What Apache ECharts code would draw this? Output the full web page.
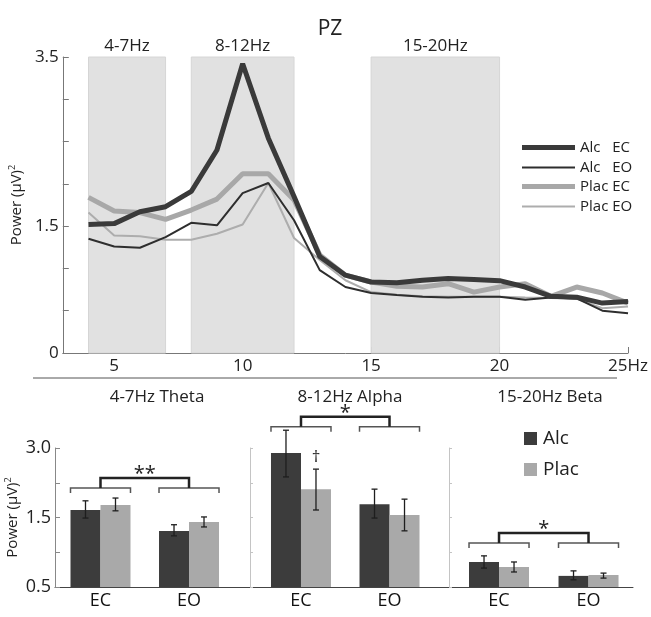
<!DOCTYPE html>
<html>
<head>
<meta charset="utf-8">
<script src="https://cdn.jsdelivr.net/npm/echarts@6/dist/echarts.min.js"></script>
<style>
  html, body { margin: 0; padding: 0; background: #fff; }
  #chart { width: 651px; height: 617px; }
</style>
</head>
<body>
<div id="chart"></div>
<script>
// spectrum at PZ, 4-25 Hz
const hz = [4, 5, 6, 7, 8, 9, 10, 11, 12, 13, 14, 15, 16, 17, 18, 19, 20, 21, 22, 23, 24, 25];
const alcEC = [1.52, 1.53, 1.67, 1.73, 1.91, 2.40, 3.42, 2.54, 1.85, 1.14, 0.92, 0.84, 0.83, 0.86, 0.88, 0.87, 0.855, 0.78, 0.67, 0.66, 0.59, 0.61];
const alcEO = [1.35, 1.26, 1.245, 1.37, 1.54, 1.51, 1.89, 2.01, 1.57, 0.98, 0.78, 0.71, 0.685, 0.665, 0.655, 0.665, 0.665, 0.63, 0.655, 0.645, 0.50, 0.47];
const placEC = [1.84, 1.68, 1.66, 1.58, 1.69, 1.82, 2.12, 2.12, 1.81, 1.16, 0.92, 0.84, 0.79, 0.78, 0.82, 0.72, 0.78, 0.82, 0.67, 0.78, 0.71, 0.59];
const placEO = [1.66, 1.39, 1.38, 1.34, 1.34, 1.41, 1.52, 2.01, 1.36, 1.10, 0.86, 0.72, 0.69, 0.67, 0.665, 0.665, 0.665, 0.655, 0.65, 0.64, 0.53, 0.55];
const lineNames = ["Alc   EC", "Alc   EO", "Plac EC", "Plac EO"];
const bandRanges = [[4, 7], [8, 12], [15, 20]];
const bandLabels = ["4-7Hz", "8-12Hz", "15-20Hz"];
const topYLabels = [0, 1.5, 3.5];
const topXLabels = [5, 10, 15, 20, 25];

// band means (EC, EO) with error bar ends
const bandTitles = ["4-7Hz Theta", "8-12Hz Alpha", "15-20Hz Beta"];
const conds = ["EC", "EO"];
const alcMean = [[1.885, 1.507], [2.91, 1.99], [0.95, 0.70]];
const alcLo = [[1.74, 1.42], [2.48, 1.74], [0.84, 0.63]];
const alcHi = [[2.05, 1.62], [3.32, 2.26], [1.06, 0.79]];
const placMean = [[1.975, 1.67], [2.26, 1.795], [0.86, 0.716]];
const placLo = [[1.87, 1.58], [1.885, 1.51], [0.77, 0.66]];
const placHi = [[2.10, 1.76], [2.62, 2.08], [0.95, 0.75]];
const placMarks = [["", ""], ["†", ""], ["", ""]];
const sigLevels = [2.28, 3.38, 1.29];
const sigMarks = ["**", "*", "*"];
const barTickLabels = ["0.5", "", "1.5", "", "3.0"];

const FONT = "Open Sans";
let myChart = echarts.init(document.getElementById("chart"));

let lineStyles = [
  { color: "#3a3a3a", width: 5 },
  { color: "#2e2e2e", width: 2 },
  { color: "#a8a8a8", width: 5 },
  { color: "#adadad", width: 2 },
];
let lineData = [alcEC, alcEO, placEC, placEO];

let series = [];
series.push({
  name: "bands",
  type: "line",
  data: [],
  z: 1,
  markArea: {
    silent: true,
    itemStyle: { color: "#e1e1e1", borderColor: "#d6d6d6", borderWidth: 1 },
    label: { position: "top", distance: 2, fontSize: 17, color: "#222", fontFamily: FONT },
    data: bandRanges.map((r, i) => [{ name: bandLabels[i], xAxis: r[0] }, { xAxis: r[1] }]),
  },
});
[3, 2, 1, 0].forEach((k) => {
  series.push({
    name: lineNames[k],
    type: "line",
    z: 3,
    symbol: "none",
    data: hz.map((h, i) => [h, lineData[k][i]]),
    lineStyle: lineStyles[k],
    itemStyle: { color: lineStyles[k].color },
  });
});

let gridLefts = [55, 250, 449];
let gridWidths = [195, 199, 184];
let xMins = [-0.514, -0.576, -0.559];
let xMaxs = [1.689, 1.672, 1.497];

let grids = [{ left: 55, right: 19, top: 57, height: 296 }];
let xAxes = [{
  type: "value", min: 3, max: 25,
  axisLine: { lineStyle: { color: "#777" } },
  axisTick: { inside: true, length: 6, customValues: topXLabels, lineStyle: { color: "#777" } },
  axisLabel: { customValues: topXLabels, fontSize: 17, color: "#222", fontFamily: FONT, margin: 5,
    formatter: (v) => (v === 25 ? "25Hz" : String(v)) },
  splitLine: { show: false },
}];
let yAxes = [{
  type: "value", min: 0, max: 3.5, interval: 0.5,
  name: "Power (µV){sup|2}", nameLocation: "middle", nameRotate: 90, nameGap: 30,
  nameTextStyle: { fontSize: 15, color: "#222", fontFamily: FONT, rich: { sup: { fontSize: 9, verticalAlign: "top", padding: [0, 0, 8, 0] } } },
  axisLine: { show: true, onZero: false, lineStyle: { color: "#777" } },
  axisTick: { show: true, inside: true, length: 6, lineStyle: { color: "#777" } },
  axisLabel: { customValues: topYLabels, fontSize: 17, color: "#222", fontFamily: FONT, margin: 4 },
  splitLine: { show: false },
}];

function errRender(b, off, marks) {
  return function (params, api) {
    let x = api.value(0);
    let lo = api.coord([x, api.value(1)]);
    let hi = api.coord([x, api.value(2)]);
    let cx = lo[0] + off;
    let st = { stroke: "#1e1e1e", lineWidth: 1.3 };
    let children = [
      { type: "line", shape: { x1: cx, y1: lo[1], x2: cx, y2: hi[1] }, style: st },
      { type: "line", shape: { x1: cx - 3, y1: lo[1], x2: cx + 3, y2: lo[1] }, style: st },
      { type: "line", shape: { x1: cx - 3, y1: hi[1], x2: cx + 3, y2: hi[1] }, style: st },
    ];
    let m = marks ? marks[b][params.dataIndex] : "";
    if (m) {
      children.push({ type: "text", style: { text: m, x: cx, y: hi[1] - 3, align: "center", verticalAlign: "bottom", fontSize: 17, fill: "#222", fontFamily: FONT } });
    }
    return { type: "group", children: children };
  };
}

function sigRender(b) {
  return function (params, api) {
    let a = api.coord([0, api.value(1)]);
    let c = api.coord([1, api.value(1)]);
    let y = a[1], up = y - 10, w = 30;
    let thin = { stroke: "#555", lineWidth: 1.5, fill: null };
    let thick = { stroke: "#222", lineWidth: 2.5, fill: null };
    return {
      type: "group",
      children: [
        { type: "polyline", shape: { points: [[a[0] - w, y + 5], [a[0] - w, y], [a[0] + w, y], [a[0] + w, y + 5]] }, style: thin },
        { type: "polyline", shape: { points: [[c[0] - w, y + 5], [c[0] - w, y], [c[0] + w, y], [c[0] + w, y + 5]] }, style: thin },
        { type: "polyline", shape: { points: [[a[0], y], [a[0], up], [c[0], up], [c[0], y]] }, style: thick },
        { type: "text", style: { text: sigMarks[b], x: (a[0] + c[0]) / 2, y: up + 6, align: "center", verticalAlign: "bottom", fontSize: 20, fill: "#222", fontFamily: FONT } },
      ],
    };
  };
}

for (let b = 0; b < 3; b++) {
  let gi = b + 1;
  grids.push({ left: gridLefts[b], width: gridWidths[b], top: 448, height: 139 });
  xAxes.push({
    gridIndex: gi, type: "value", min: xMins[b], max: xMaxs[b],
    axisLine: { onZero: false, lineStyle: { color: "#444" } },
    axisTick: { show: false },
    axisLabel: { customValues: [0, 1], formatter: (v) => conds[Math.round(v)], fontSize: 18, color: "#111", fontFamily: FONT, margin: 5 },
    splitLine: { show: false },
  });
  yAxes.push({
    gridIndex: gi, type: "value", min: 0.5, max: 3.0, interval: 0.625,
    name: b === 0 ? "Power (µV){sup|2}" : "", nameLocation: "middle", nameRotate: 90, nameGap: 34,
    nameTextStyle: { fontSize: 15, color: "#222", fontFamily: FONT, rich: { sup: { fontSize: 9, verticalAlign: "top", padding: [0, 0, 8, 0] } } },
    axisLine: { show: true, onZero: false, lineStyle: { color: b === 0 ? "#888" : "#c4c4c4" } },
    axisTick: { show: true, inside: true, length: b === 0 ? 5 : 3, lineStyle: { color: b === 0 ? "#888" : "#c4c4c4" } },
    axisLabel: { show: b === 0, fontSize: 18, color: "#222", fontFamily: FONT, margin: 4,
      formatter: (v) => barTickLabels[Math.round((v - 0.5) / 0.625)] },
    splitLine: { show: false },
  });
  series.push({
    name: "Alc", type: "bar", xAxisIndex: gi, yAxisIndex: gi, barWidth: 30, barGap: "0%",
    itemStyle: { color: "#3c3c3c" },
    data: alcMean[b].map((v, i) => [i, v]),
  });
  series.push({
    name: "Plac", type: "bar", xAxisIndex: gi, yAxisIndex: gi, barWidth: 30, barGap: "0%",
    itemStyle: { color: "#a9a9a9" },
    data: placMean[b].map((v, i) => [i, v]),
  });
  series.push({
    type: "custom", xAxisIndex: gi, yAxisIndex: gi, z: 5, clip: false,
    renderItem: errRender(b, -15, null),
    data: alcMean[b].map((v, i) => [i, alcLo[b][i], alcHi[b][i]]),
  });
  series.push({
    type: "custom", xAxisIndex: gi, yAxisIndex: gi, z: 5, clip: false,
    renderItem: errRender(b, 15, placMarks),
    data: placMean[b].map((v, i) => [i, placLo[b][i], placHi[b][i]]),
  });
  series.push({
    type: "custom", xAxisIndex: gi, yAxisIndex: gi, z: 5, clip: false,
    renderItem: sigRender(b),
    data: [[0, sigLevels[b]]],
  });
}

// one legend per line so each key keeps its own stroke width
let legendRowTops = [135, 155, 174, 194];
let legends = lineNames.map((n, k) => ({
  data: [n], left: 517, top: legendRowTops[k], itemWidth: 53, itemHeight: lineStyles[k].width,
  icon: "rect", selectedMode: false,
  textStyle: { fontSize: 15, color: "#222", fontFamily: FONT },
}));
legends.push({
  data: ["Alc", "Plac"], orient: "vertical", left: 519, top: 424, itemWidth: 13, itemHeight: 13, itemGap: 12,
  icon: "rect", selectedMode: false,
  textStyle: { fontSize: 19, color: "#222", fontFamily: FONT, padding: [0, 0, 0, 1] },
});

let titleCenters = [152, 345, 545];
let option = {
  animation: false,
  textStyle: { fontFamily: FONT },
  title: [{ text: "PZ", left: 325, top: 14, textAlign: "center", textStyle: { fontSize: 21, fontWeight: "normal", color: "#222", fontFamily: FONT } }]
    .concat(bandTitles.map((t, i) => ({
      text: t, left: titleCenters[i], top: 384, textAlign: "center",
      textStyle: { fontSize: 17, fontWeight: "normal", color: "#222", fontFamily: FONT },
    }))),
  legend: legends,
  graphic: [{ type: "line", shape: { x1: 33, y1: 378, x2: 617, y2: 378 }, style: { stroke: "#555", lineWidth: 1 } }],
  grid: grids,
  xAxis: xAxes,
  yAxis: yAxes,
  series: series,
};
myChart.setOption(option);
</script>
</body>
</html>
